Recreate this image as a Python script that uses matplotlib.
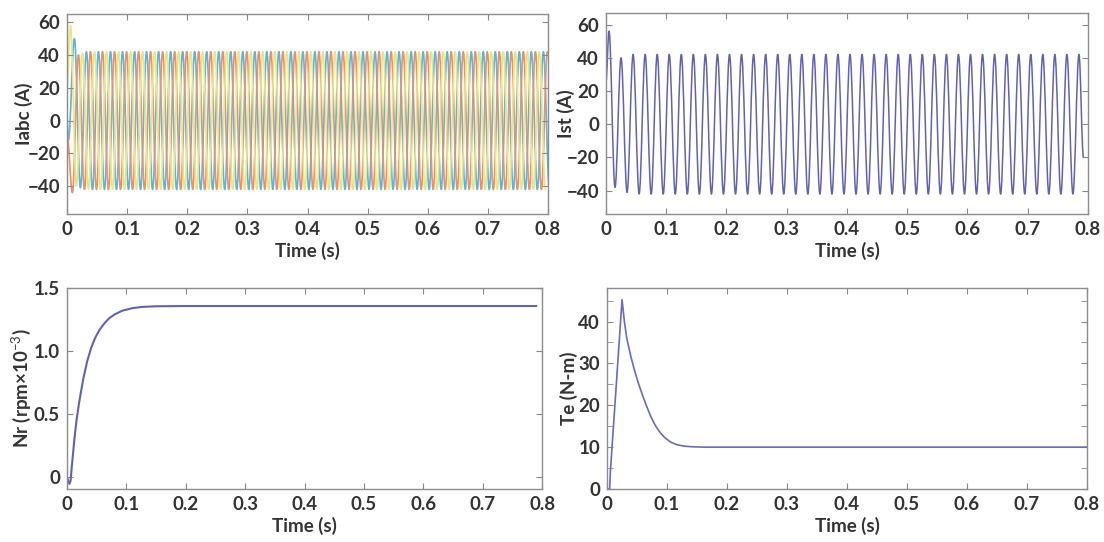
import numpy as np
import matplotlib.pyplot as plt
from matplotlib.path import Path
from matplotlib.patches import PathPatch
from matplotlib.ticker import MultipleLocator

plt.rcParams['font.family'] = ['Lato', 'DejaVu Sans']
plt.rcParams['mathtext.fontset'] = 'custom'
plt.rcParams['mathtext.rm'] = 'Lato'
plt.rcParams['mathtext.it'] = 'Lato'

# ---- data ----
# three phase stator currents: peak values every half period (0.01 s)
ia_start, ia_t0 = 20, 0.0057
ia_peaks = [58, -40, 41] + [-42, 42] * 38 + [-42]
ib_start, ib_t0 = 0, 0.0023
ib_peaks = [-12, 50, -41] + [42, -42] * 38 + [42, -42]
ic_start, ic_t0 = -8, 0.0090
ic_peaks = [-44, 40] + [-42, 42] * 39
half_period = 0.01

# single phase current Ist
ist_start, ist_t0 = 26, 0.005
ist_peaks = [56, -38, 40, -41] + [42, -42] * 37 + [42]
ist_end = (0.7925, -20)

# rotor speed
nr_t = [0, 0.002, 0.004, 0.006, 0.008, 0.012, 0.016, 0.020, 0.027, 0.034,
        0.041, 0.048, 0.055, 0.063, 0.071, 0.080, 0.093, 0.110, 0.126, 0.150,
        0.200, 0.300, 0.400, 0.500, 0.600, 0.700, 0.790]
nr = [0, -0.03, -0.055, -0.03, 0.08, 0.28, 0.45, 0.58, 0.77, 0.92,
      1.03, 1.11, 1.17, 1.22, 1.26, 1.29, 1.32, 1.34, 1.35, 1.355,
      1.357, 1.357, 1.357, 1.357, 1.357, 1.357, 1.357]

# electromagnetic torque
te_t = [0, 0.0045, 0.0056, 0.0251, 0.029, 0.033, 0.040, 0.046, 0.052,
        0.059, 0.066, 0.073, 0.080, 0.088, 0.096, 0.106, 0.116, 0.128,
        0.140, 0.160, 0.200, 0.400, 0.600, 0.800]
te = [0, 0, 4, 45.2, 40, 36, 31.5, 28.3, 25.4, 22.5, 19.8, 17.3, 15.3,
      13.6, 12.3, 11.2, 10.6, 10.25, 10.1, 10.0, 10.0, 10.0, 10.0, 10.0]

xticks = [0, 0.1, 0.2, 0.3, 0.4, 0.5, 0.6, 0.7, 0.8]
xlabels = ['0', '0.1', '0.2', '0.3', '0.4', '0.5', '0.6', '0.7', '0.8']


def wave_path(t, y):
    # smooth S-shaped segments between successive peaks (flat at each peak)
    verts = [(t[0], y[0])]
    codes = [Path.MOVETO]
    for i in range(1, len(t)):
        h = t[i] - t[i - 1]
        verts += [(t[i - 1] + 0.36 * h, y[i - 1]), (t[i] - 0.36 * h, y[i]), (t[i], y[i])]
        codes += [Path.CURVE4] * 3
    return Path(verts, codes)


def add_wave(ax, start, t0, peaks, color, lw, end=None):
    t = list(np.concatenate([[0], t0 + half_period * np.arange(len(peaks))]))
    y = [start] + list(peaks)
    if end is not None:
        t.append(end[0])
        y.append(end[1])
    ax.add_patch(PathPatch(wave_path(t, y), fill=False, edgecolor=color, lw=lw,
                           capstyle='round', joinstyle='round'))


txt = '#333333'
fig = plt.figure(figsize=(11.04, 5.42), dpi=100)
ax1 = fig.add_axes([0.0607, 0.6052, 0.4357, 0.369])
ax2 = fig.add_axes([0.5489, 0.6052, 0.4366, 0.371])
ax3 = fig.add_axes([0.0607, 0.0978, 0.4303, 0.3708])
ax4 = fig.add_axes([0.5498, 0.0978, 0.4348, 0.3708])

for start, t0, peaks, c in [(ib_start, ib_t0, ib_peaks, '#55b8dc'),
                            (ic_start, ic_t0, ic_peaks, '#ec8f6c'),
                            (ia_start, ia_t0, ia_peaks, '#f2e27c')]:
    add_wave(ax1, start, t0, peaks, c, 1.2)
ax1.set_ylim(-57, 65)
ax1.set_yticks([-40, -20, 0, 20, 40, 60])
ax1.set_ylabel('Iabc (A)')
ax1.yaxis.set_label_coords(-0.071, 0.5)

add_wave(ax2, ist_start, ist_t0, ist_peaks, '#6262b2', 1.1, end=ist_end)
ax2.set_ylim(-54, 67)
ax2.set_yticks([-40, -20, 0, 20, 40, 60])
ax2.set_ylabel('Ist (A)')
ax2.yaxis.set_label_coords(-0.064, 0.5)

ax3.plot(nr_t, nr, color='#6262b4', lw=1.5)
ax3.set_ylim(-0.095, 1.5)
ax3.set_yticks([0, 0.5, 1.0, 1.5])
ax3.set_yticklabels(['0', '0.5', '1.0', '1.5'])
ax3.set_ylabel(r'Nr (rpm×10$^{-3}$)')
ax3.yaxis.set_label_coords(-0.072, 0.5)

ax4.plot(te_t, te, color='#6a6ac0', lw=1.2)
ax4.set_ylim(0, 48)
ax4.set_yticks([0, 10, 20, 30, 40])
ax4.yaxis.set_minor_locator(MultipleLocator(5))
ax4.set_ylabel('Te (N-m)')
ax4.yaxis.set_label_coords(-0.060, 0.5)

for ax in (ax1, ax2, ax3, ax4):
    ax.set_xlim(0, 0.8)
    ax.set_xticks(xticks)
    ax.set_xticklabels(xlabels)
    ax.set_xlabel('Time (s)', fontsize=13.5, color=txt, fontweight='bold', labelpad=3)
    ax.yaxis.label.set_fontsize(13.5)
    ax.yaxis.label.set_color(txt)
    ax.yaxis.label.set_fontweight('bold')
    ax.tick_params(which='both', direction='in', top=True, right=True, length=4,
                   color='#888888', labelsize=13.5, labelcolor=txt, pad=5)
    for lab in ax.get_xticklabels() + ax.get_yticklabels():
        lab.set_fontweight('bold')
    for s in ax.spines.values():
        s.set_color('#8c8c8c')
        s.set_linewidth(1.0)

fig.savefig('out.png', dpi=100)
